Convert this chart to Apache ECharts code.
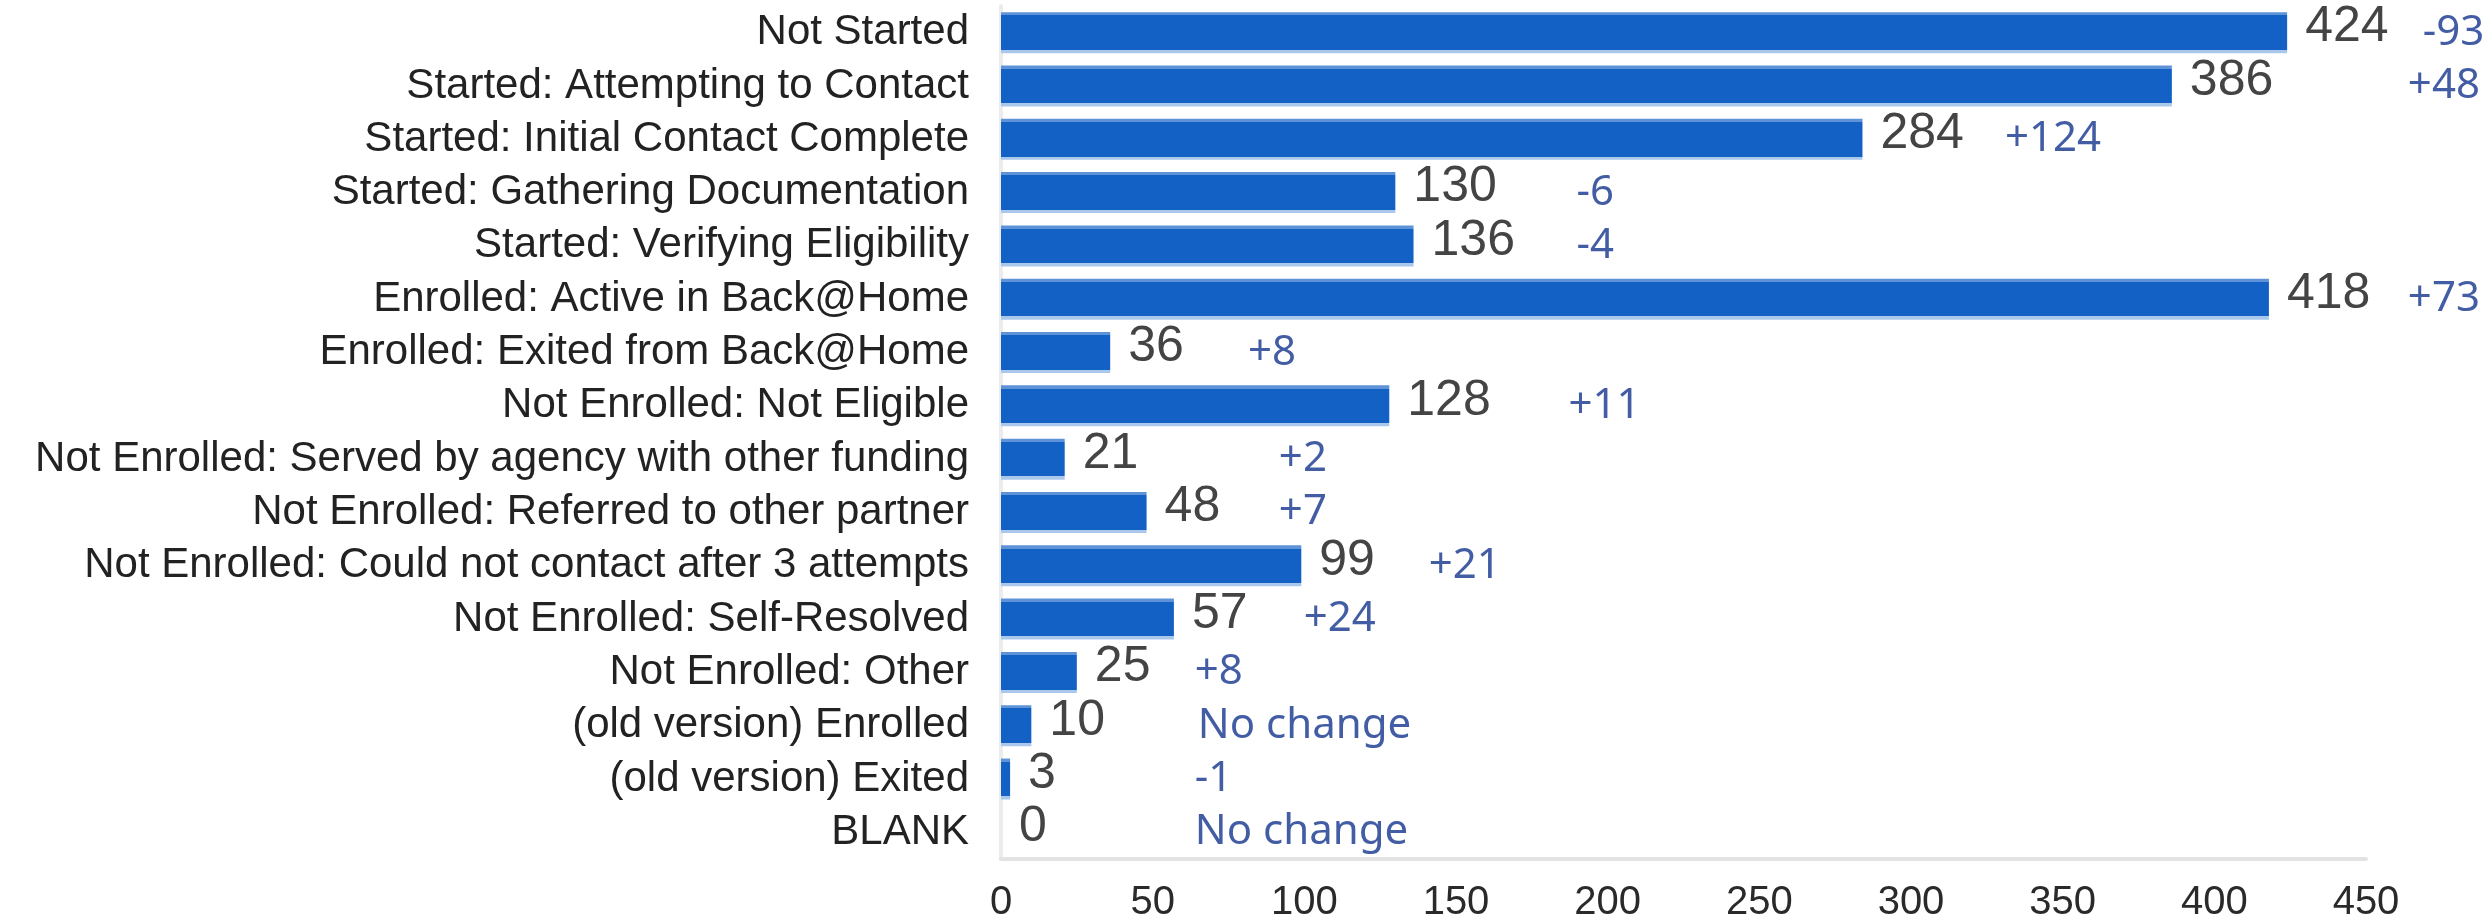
<!DOCTYPE html>
<html>
<head>
<meta charset="utf-8">
<script src="https://cdn.jsdelivr.net/npm/echarts@6/dist/echarts.min.js"></script>
<style>
  html, body { margin: 0; padding: 0; background: #fff; }
  #chart { width: 2489px; height: 924px; }
</style>
</head>
<body>
<div id="chart"></div>
<script>
// categories, top to bottom
const categories = [
    'Not Started',
    'Started: Attempting to Contact',
    'Started: Initial Contact Complete',
    'Started: Gathering Documentation',
    'Started: Verifying Eligibility',
    'Enrolled: Active in Back@Home',
    'Enrolled: Exited from Back@Home',
    'Not Enrolled: Not Eligible',
    'Not Enrolled: Served by agency with other funding',
    'Not Enrolled: Referred to other partner',
    'Not Enrolled: Could not contact after 3 attempts',
    'Not Enrolled: Self-Resolved',
    'Not Enrolled: Other',
    '(old version) Enrolled',
    '(old version) Exited',
    'BLANK'
]
const counts = [424, 386, 284, 130, 136, 418, 36, 128, 21, 48, 99, 57, 25, 10, 3, 0]
const changes = ['-93', '+48', '+124', '-6', '-4', '+73', '+8', '+11', '+2', '+7', '+21', '+24', '+8', 'No change', '-1', 'No change']
// where each change note starts, in axis units (hand placed in the original)
const changeAt = [468.7, 463.8, 331, 189.7, 189.7, 463.8, 81.4, 187.1, 91.6, 91.6, 141, 99.8, 63.9, 64.9, 63.9, 63.9]
const xTicks = { min: 0, max: 450, interval: 50 }

const chart = echarts.init(document.getElementById('chart'))

const option = {
    animation: false,
    grid: { left: 1001, right: 123, top: 6, bottom: 65 },
    xAxis: {
        type: 'value',
        min: xTicks.min,
        max: xTicks.max,
        interval: xTicks.interval,
        splitLine: { show: false },
        axisTick: { show: false },
        axisLine: { show: true, lineStyle: { color: '#e3e3e3', width: 4 } },
        axisLabel: {
            margin: 24,
            fontSize: 40,
            color: '#2a2a2a',
            fontFamily: 'Liberation Sans'
        }
    },
    yAxis: {
        type: 'category',
        inverse: true,
        data: categories,
        axisTick: { show: false },
        axisLine: { show: true, lineStyle: { color: '#ececec', width: 4 } },
        axisLabel: {
            interval: 0,
            margin: 32,
            fontSize: 42,
            color: '#222',
            fontFamily: 'Liberation Sans',
            padding: [0, 0, 6, 0]
        }
    },
    series: [
        {
            type: 'bar',
            data: counts,
            barWidth: 41,
            itemStyle: {
                // light edges top and bottom, as in the original image
                color: new echarts.graphic.LinearGradient(0, 0, 0, 1, [
                    { offset: 0, color: '#5f93d8' },
                    { offset: 0.08, color: '#5f93d8' },
                    { offset: 0.08, color: '#1361c4' },
                    { offset: 0.92, color: '#1361c4' },
                    { offset: 0.92, color: '#a9c8ec' },
                    { offset: 1, color: '#a9c8ec' }
                ])
            },
            label: {
                show: true,
                position: 'right',
                distance: 18,
                offset: [0, -5],
                fontSize: 50,
                color: '#444',
                fontFamily: 'Liberation Sans'
            }
        },
        {
            type: 'scatter',
            data: changeAt.map((x, i) => [x, i]),
            symbolSize: 0,
            clip: false,
            silent: true,
            label: {
                show: true,
                position: 'right',
                distance: 0,
                formatter: p => changes[p.dataIndex],
                fontSize: 42,
                color: '#14348f',
                fontFamily: 'Noto Sans'
            }
        }
    ]
}
chart.setOption(option)

window.addEventListener('resize', () => {
    chart.resize()
})
</script>
</body>
</html>
